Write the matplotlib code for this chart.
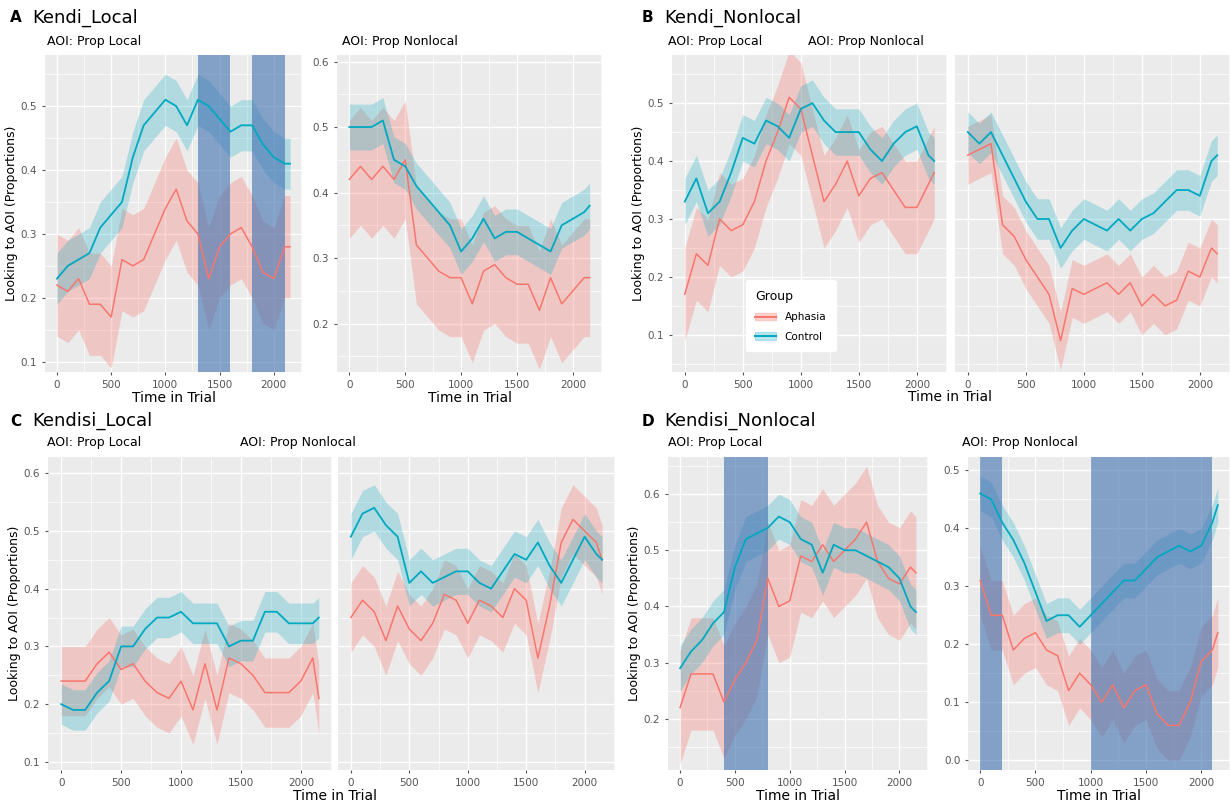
import matplotlib
matplotlib.use("Agg")
import matplotlib.pyplot as plt
from matplotlib.lines import Line2D
from matplotlib.patches import Patch
from matplotlib.ticker import AutoMinorLocator

time = [0, 100, 200, 300, 400, 500, 600, 700, 800, 900, 1000, 1100, 1200,
        1300, 1400, 1500, 1600, 1700, 1800, 1900, 2000, 2100, 2150]

# A Kendi_Local
a_loc_ctrl = [0.23, 0.25, 0.26, 0.27, 0.31, 0.33, 0.35, 0.42, 0.47, 0.49, 0.51, 0.50, 0.47,
              0.51, 0.50, 0.48, 0.46, 0.47, 0.47, 0.44, 0.42, 0.41, 0.41]
a_loc_aph = [0.22, 0.21, 0.23, 0.19, 0.19, 0.17, 0.26, 0.25, 0.26, 0.30, 0.34, 0.37, 0.32,
             0.30, 0.23, 0.28, 0.30, 0.31, 0.28, 0.24, 0.23, 0.28, 0.28]
a_non_ctrl = [0.50, 0.50, 0.50, 0.51, 0.45, 0.44, 0.41, 0.39, 0.37, 0.35, 0.31, 0.33, 0.36,
              0.33, 0.34, 0.34, 0.33, 0.32, 0.31, 0.35, 0.36, 0.37, 0.38]
a_non_aph = [0.42, 0.44, 0.42, 0.44, 0.42, 0.45, 0.32, 0.30, 0.28, 0.27, 0.27, 0.23, 0.28,
             0.29, 0.27, 0.26, 0.26, 0.22, 0.27, 0.23, 0.25, 0.27, 0.27]
# B Kendi_Nonlocal
b_loc_ctrl = [0.33, 0.37, 0.31, 0.33, 0.38, 0.44, 0.43, 0.47, 0.46, 0.44, 0.49, 0.50, 0.47,
              0.45, 0.45, 0.45, 0.42, 0.40, 0.43, 0.45, 0.46, 0.41, 0.40]
b_loc_aph = [0.17, 0.24, 0.22, 0.30, 0.28, 0.29, 0.33, 0.40, 0.45, 0.51, 0.49, 0.41, 0.33,
             0.36, 0.40, 0.34, 0.37, 0.38, 0.35, 0.32, 0.32, 0.36, 0.38]
b_non_ctrl = [0.45, 0.43, 0.45, 0.41, 0.37, 0.33, 0.30, 0.30, 0.25, 0.28, 0.30, 0.29, 0.28,
              0.30, 0.28, 0.30, 0.31, 0.33, 0.35, 0.35, 0.34, 0.40, 0.41]
b_non_aph = [0.41, 0.42, 0.43, 0.29, 0.27, 0.23, 0.20, 0.17, 0.09, 0.18, 0.17, 0.18, 0.19,
             0.17, 0.19, 0.15, 0.17, 0.15, 0.16, 0.21, 0.20, 0.25, 0.24]
# C Kendisi_Local
c_loc_ctrl = [0.20, 0.19, 0.19, 0.22, 0.24, 0.30, 0.30, 0.33, 0.35, 0.35, 0.36, 0.34, 0.34,
              0.34, 0.30, 0.31, 0.31, 0.36, 0.36, 0.34, 0.34, 0.34, 0.35]
c_loc_aph = [0.24, 0.24, 0.24, 0.27, 0.29, 0.26, 0.27, 0.24, 0.22, 0.21, 0.24, 0.19, 0.27,
             0.19, 0.28, 0.27, 0.25, 0.22, 0.22, 0.22, 0.24, 0.28, 0.21]
c_non_ctrl = [0.49, 0.53, 0.54, 0.51, 0.49, 0.41, 0.43, 0.41, 0.42, 0.43, 0.43, 0.41, 0.40,
              0.43, 0.46, 0.45, 0.48, 0.44, 0.41, 0.45, 0.49, 0.46, 0.45]
c_non_aph = [0.35, 0.38, 0.36, 0.31, 0.37, 0.33, 0.31, 0.34, 0.39, 0.38, 0.34, 0.38, 0.37,
             0.35, 0.40, 0.38, 0.28, 0.37, 0.48, 0.52, 0.50, 0.48, 0.45]
# D Kendisi_Nonlocal
d_loc_ctrl = [0.29, 0.32, 0.34, 0.37, 0.39, 0.47, 0.52, 0.53, 0.54, 0.56, 0.55, 0.52, 0.51,
              0.46, 0.51, 0.50, 0.50, 0.49, 0.48, 0.47, 0.45, 0.40, 0.39]
d_loc_aph = [0.22, 0.28, 0.28, 0.28, 0.23, 0.27, 0.30, 0.34, 0.45, 0.40, 0.41, 0.49, 0.48,
             0.51, 0.48, 0.50, 0.52, 0.55, 0.48, 0.45, 0.44, 0.47, 0.46]
d_non_ctrl = [0.46, 0.45, 0.41, 0.38, 0.34, 0.29, 0.24, 0.25, 0.25, 0.23, 0.25, 0.27, 0.29,
              0.31, 0.31, 0.33, 0.35, 0.36, 0.37, 0.36, 0.37, 0.41, 0.44]
d_non_aph = [0.31, 0.25, 0.25, 0.19, 0.21, 0.22, 0.19, 0.18, 0.12, 0.15, 0.13, 0.10, 0.13,
             0.09, 0.12, 0.13, 0.08, 0.06, 0.06, 0.10, 0.17, 0.19, 0.22]

APH = "#F8766D"
CTRL = "#00A9C1"
BG = "#EBEBEB"
SPAN = "#3E6FB0"

fig = plt.figure(figsize=(12.3, 8.05), dpi=100)
W, H = 1230, 805


def make_ax(x0, y0, x1, y1):
    return fig.add_axes([x0 / W, 1 - y1 / H, (x1 - x0) / W, (y1 - y0) / H])


def draw(ax, ctrl, aph, hw_c, hw_a, ylim, yticks, show_y=True, spans=(), xlabel=True):
    ax.set_facecolor(BG)
    for s in ax.spines.values():
        s.set_visible(False)
    ax.xaxis.set_minor_locator(AutoMinorLocator(2))
    ax.yaxis.set_minor_locator(AutoMinorLocator(2))
    ax.grid(True, which="major", color="white", lw=1.0)
    ax.grid(True, which="minor", color="white", lw=0.5)
    ax.tick_params(which="minor", length=0)
    ax.set_axisbelow(True)
    ax.fill_between(time, [v - hw_a for v in aph], [v + hw_a for v in aph], color=APH, alpha=0.3, lw=0)
    ax.fill_between(time, [v - hw_c for v in ctrl], [v + hw_c for v in ctrl], color=CTRL, alpha=0.25, lw=0)
    ax.plot(time, aph, color=APH, lw=1.1)
    ax.plot(time, ctrl, color=CTRL, lw=1.3)
    for a, b in spans:
        ax.axvspan(a, b, color=SPAN, alpha=0.6, lw=0)
    ax.set_xlim(-110, 2260)
    ax.set_ylim(*ylim)
    ax.set_xticks([0, 500, 1000, 1500, 2000])
    ax.set_yticks(yticks)
    ax.tick_params(labelsize=7.5, colors="#555555", length=2)
    if not show_y:
        ax.tick_params(axis="y", labelleft=False, length=0)
    if xlabel:
        ax.set_xlabel("Time in Trial", fontsize=10, labelpad=1)
    return ax


def ylab(ax):
    ax.set_ylabel("Looking to AOI (Proportions)", fontsize=9, labelpad=2)


t1 = [0.1, 0.2, 0.3, 0.4, 0.5]
t2 = [0.2, 0.3, 0.4, 0.5, 0.6]
t3 = [0.1, 0.2, 0.3, 0.4, 0.5, 0.6]
t4 = [0.0, 0.1, 0.2, 0.3, 0.4, 0.5]

# A
ax = draw(make_ax(45, 55, 302, 372), a_loc_ctrl, a_loc_aph, 0.04, 0.08, (0.084, 0.58), t1,
          spans=[(1300, 1600), (1800, 2100)])
ylab(ax)
draw(make_ax(337, 55, 602, 372), a_non_ctrl, a_non_aph, 0.035, 0.09, (0.126, 0.61), t2)
# B
ax = draw(make_ax(672, 55, 947, 372), b_loc_ctrl, b_loc_aph, 0.04, 0.08, (0.036, 0.583), t1, xlabel=False)
ylab(ax)
handles = [(Patch(color=APH, alpha=0.3), Line2D([], [], color=APH)),
           (Patch(color=CTRL, alpha=0.25), Line2D([], [], color=CTRL, lw=1.5))]
ax.legend(handles, ["Aphasia", "Control"], title="Group", loc="lower left",
          bbox_to_anchor=(0.25, 0.05), fontsize=7.5, title_fontsize=9,
          frameon=True, facecolor="white", edgecolor="white", framealpha=1,
          borderpad=0.9, labelspacing=0.9, alignment="left")
draw(make_ax(955, 55, 1230, 372), b_non_ctrl, b_non_aph, 0.035, 0.05, (0.036, 0.583), t1, show_y=False, xlabel=False)
fig.text(950 / W, 1 - 404 / H, "Time in Trial", fontsize=10, ha="center", va="bottom")
# C
ax = draw(make_ax(48, 457, 332, 770), c_loc_ctrl, c_loc_aph, 0.035, 0.06, (0.086, 0.628), t3, xlabel=False)
ylab(ax)
draw(make_ax(338, 457, 615, 770), c_non_ctrl, c_non_aph, 0.04, 0.06, (0.086, 0.628), t3, show_y=False, xlabel=False)
fig.text(335 / W, 1 - 803 / H, "Time in Trial", fontsize=10, ha="center", va="bottom")
# D
ax = draw(make_ax(668, 457, 928, 770), d_loc_ctrl, d_loc_aph, 0.04, 0.1, (0.109, 0.666), t1[1:] + [0.6],
          spans=[(400, 800)])
ylab(ax)
draw(make_ax(968, 457, 1230, 770), d_non_ctrl, d_non_aph, 0.03, 0.06, (-0.017, 0.523), t4,
     spans=[(0, 200), (1000, 2100)])


def title(x, y, letter, name):
    fig.text(x / W, 1 - y / H, letter, fontsize=11, fontweight="bold", va="center")
    fig.text((x + 22) / W, 1 - y / H, name, fontsize=13, va="center")


title(10, 18, "A", "Kendi_Local")
title(642, 18, "B", "Kendi_Nonlocal")
title(10, 421, "C", "Kendisi_Local")
title(642, 421, "D", "Kendisi_Nonlocal")

for x, y, s in [(47, 42, "AOI: Prop Local"), (342, 42, "AOI: Prop Nonlocal"),
                (668, 42, "AOI: Prop Local"), (808, 42, "AOI: Prop Nonlocal"),
                (47, 442, "AOI: Prop Local"), (240, 442, "AOI: Prop Nonlocal"),
                (668, 442, "AOI: Prop Local"), (962, 442, "AOI: Prop Nonlocal")]:
    fig.text(x / W, 1 - y / H, s, fontsize=9, va="center")

fig.savefig("out.png", dpi=100)
